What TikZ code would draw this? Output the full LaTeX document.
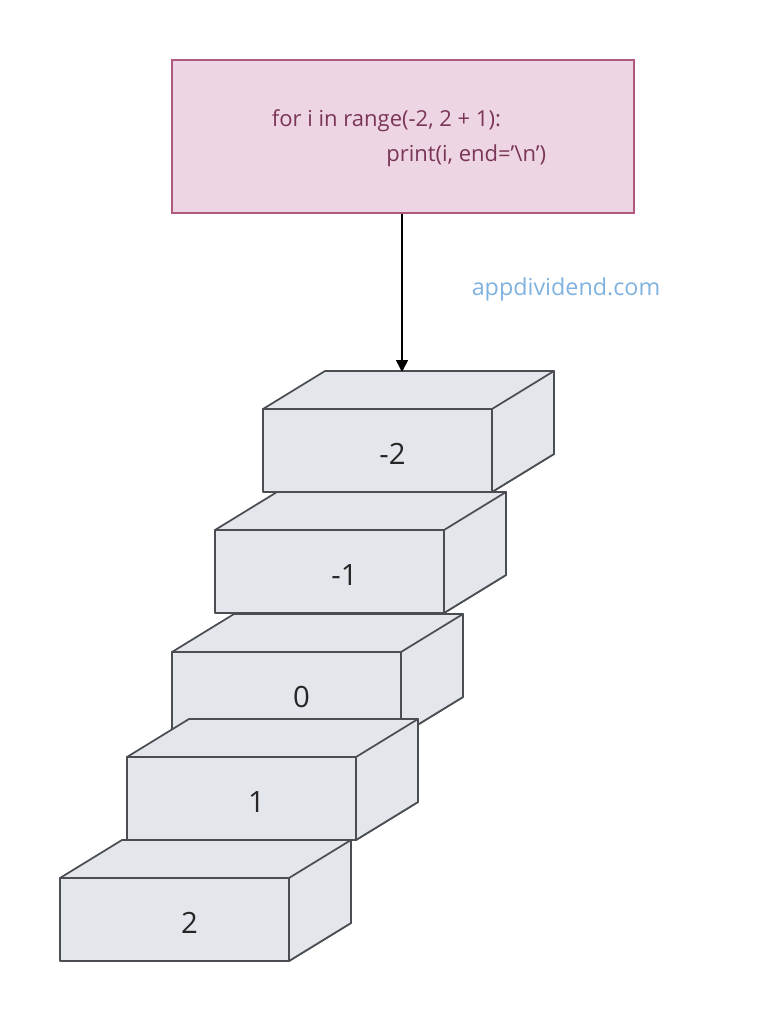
\documentclass[tikz,border=0pt]{standalone}
\usepackage{fontspec}
\setmainfont{Open Sans}
\usetikzlibrary{arrows.meta}
\definecolor{boxfill}{HTML}{E3E6EB}
\definecolor{boxline}{HTML}{4A4D52}
\definecolor{pinkfill}{HTML}{EDD5E3}
\definecolor{pinkline}{HTML}{B0587E}
\definecolor{pinktext}{HTML}{7A3558}
\definecolor{wm}{HTML}{7FB2DE}
\tikzset{face/.style={fill=boxfill,draw=boxline,line width=1.3pt,line join=round},
 lbl/.style={font=\fontsize{22}{26}\selectfont,text=black!85}}
\newcommand{\stepblock}[4]{% x y label name
  \draw[face] (#1,#2) -- ++(62,-38) -- ++(229,0) -- ++(0,83) -- ++(-62,38) -- cycle;
  \draw[face] (#1+229,#2) -- ++(62,-38) -- ++(0,83) -- ++(-62,38) -- cycle;
  \draw[face] (#1,#2) rectangle (#1+229,#2+83);
  \node[lbl] (#4) at (#1+114.5+15,#2+45) {#3};
}
\begin{document}
\begin{tikzpicture}[x=0.75pt,y=-0.75pt]
\useasboundingbox (0,0) rectangle (773,1024);
\node[draw=pinkline,fill=pinkfill,line width=1.3pt,minimum width=462*0.75pt,minimum height=153*0.75pt,inner sep=0pt] (code) at (403,136.5) {};
\node[text=pinktext,font=\fontsize{16.5}{26}\selectfont,align=left] at (409,138) {for i in range(-2, 2 + 1):\\\hspace{5.2em}print(i, end='\textbackslash n')};
\node[text=wm,font=\fontsize{17.5}{20}\selectfont] (wmk) at (566,289) {appdividend.com};
\coordinate (top) at (402,372);
\stepblock{263}{409}{-2}{s1}
\stepblock{215}{530}{-1}{s2}
\stepblock{172}{652}{0}{s3}
\stepblock{127}{757}{1}{s4}
\stepblock{60}{878}{2}{s5}
\draw[-{Triangle[length=9pt,width=9pt]},line width=1.2pt] (code.south -| top) -- (top);
\end{tikzpicture}
\end{document}
